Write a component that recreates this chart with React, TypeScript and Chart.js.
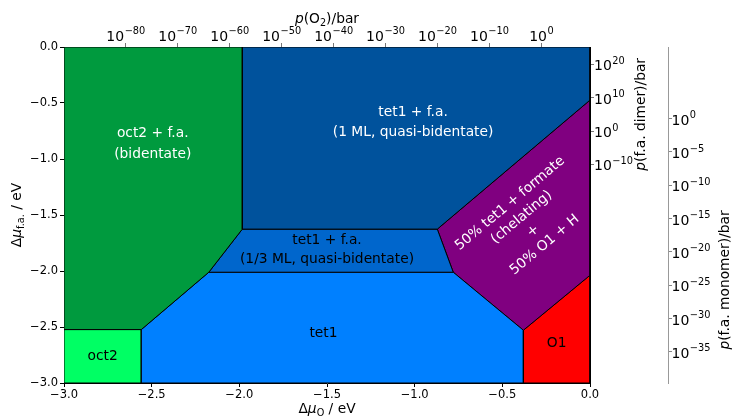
import React, { useEffect, useRef } from 'react';
import { Chart, registerables } from 'chart.js';
Chart.register(...registerables);

// ---------- data ----------
const muOTicks = [-3, -2.5, -2, -1.5, -1, -0.5, 0];
const muFaTicks = [-3, -2.5, -2, -1.5, -1, -0.5, 0];
const o2Exponents = [-80, -70, -60, -50, -40, -30, -20, -10, 0];
const dimerExponents = [20, 10, 0, -10];
const monomerExponents = [0, -5, -10, -15, -20, -25, -30, -35];

// log10(p/bar) at the edges of the plot (Δμ = -3 ... 0)
const o2Range = [-91.9, 9.35];
const dimerRange = [-75.6, 25.2];
const monomerRange = [-39.67, 10.74];

// phase polygons (Δμ_O, Δμ_f.a.)
const oct2FaX = [-3, -1.983, -1.983, -2.174, -2.559, -3, -3];
const oct2FaY = [0, 0, -1.626, -2.011, -2.523, -2.523, 0];
const tet1Fa1X = [-1.983, 0, 0, -0.871, -1.983, -1.983];
const tet1Fa1Y = [0, 0, -0.474, -1.626, -1.626, 0];
const tet1Fa13X = [-1.983, -0.871, -0.780, -2.174, -1.983];
const tet1Fa13Y = [-1.626, -1.626, -2.011, -2.011, -1.626];
const tet1X = [-2.174, -0.780, -0.380, -0.380, -2.559, -2.559, -2.174];
const tet1Y = [-2.011, -2.011, -2.529, -3, -3, -2.523, -2.011];
const oct2X = [-3, -2.559, -2.559, -3, -3];
const oct2Y = [-2.523, -2.523, -3, -3, -2.523];
const formateX = [-0.871, 0, 0, -0.380, -0.780, -0.871];
const formateY = [-1.626, -0.474, -2.038, -2.529, -2.011, -1.626];
const o1X = [-0.380, 0, 0, -0.380, -0.380];
const o1Y = [-2.529, -2.038, -3, -3, -2.529];

const phaseColors = ['#009a3e', '#00529c', '#0066cc', '#0080ff', '#00ff64', '#800080', '#ff0000'];
const phaseXs = [oct2FaX, tet1Fa1X, tet1Fa13X, tet1X, oct2X, formateX, o1X];
const phaseYs = [oct2FaY, tet1Fa1Y, tet1Fa13Y, tet1Y, oct2Y, formateY, o1Y];

// region labels
const labelLines = [
  ['oct2 + f.a.', '(bidentate)'],
  ['tet1 + f.a.', '(1 ML, quasi-bidentate)'],
  ['tet1 + f.a.', '(1/3 ML, quasi-bidentate)'],
  ['tet1'],
  ['oct2'],
  ['50% tet1 + formate', '(chelating)', '+', '50% O1 + H'],
  ['O1'],
];
const labelX = [-2.494, -1.009, -1.5, -1.52, -2.78, -0.357, -0.19];
const labelY = [-0.865, -0.67, -1.815, -2.56, -2.76, -1.582, -2.65];
const labelColors = ['#fff', '#fff', '#000', '#000', '#000', '#fff', '#000'];
const labelAngles = [0, 0, 0, 0, 0, -40, 0];
const labelSpacing = [21, 20, 19, 20, 20, 18, 20];

// ---------- helpers ----------
const FONT = '"DejaVu Sans", sans-serif';
const fmt = (v: number) => (v < 0 ? '\u2212' : '') + Math.abs(v).toFixed(1);
const expText = (v: number) => (v < 0 ? '\u2212' : '') + String(Math.abs(v));

const TICK = 11.5;
const BASESIZE = 14;
const SUPSIZE = 9.8;

function drawPow10(ctx: CanvasRenderingContext2D, e: number, x: number, baseline: number, align: 'left' | 'center') {
  ctx.font = `${BASESIZE}px ${FONT}`;
  const w1 = ctx.measureText('10').width;
  ctx.font = `${SUPSIZE}px ${FONT}`;
  const w2 = ctx.measureText(expText(e)).width;
  const gap = 0.5;
  const total = w1 + gap + w2;
  const x0 = align === 'center' ? x - total / 2 : x;
  ctx.textAlign = 'left';
  ctx.textBaseline = 'alphabetic';
  ctx.fillStyle = '#000';
  ctx.font = `${BASESIZE}px ${FONT}`;
  ctx.fillText('10', x0, baseline);
  ctx.font = `${SUPSIZE}px ${FONT}`;
  ctx.fillText(expText(e), x0 + w1 + gap, baseline - 6.4);
}

type Seg = { t: string; italic?: boolean; sub?: boolean };
function drawRich(ctx: CanvasRenderingContext2D, segs: Seg[], x: number, y: number, rot: number, size: number, color: string) {
  ctx.save();
  ctx.translate(x, y);
  ctx.rotate(rot);
  const fonts = segs.map((s) => `${s.italic ? 'italic ' : ''}${s.sub ? size * 0.7 : size}px ${FONT}`);
  let total = 0;
  const widths = segs.map((s, i) => {
    ctx.font = fonts[i];
    const w = ctx.measureText(s.t).width;
    total += w;
    return w;
  });
  let cx = -total / 2;
  ctx.textAlign = 'left';
  ctx.textBaseline = 'alphabetic';
  ctx.fillStyle = color;
  segs.forEach((s, i) => {
    ctx.font = fonts[i];
    ctx.fillText(s.t, cx, s.sub ? size * 0.22 : 0);
    cx += widths[i];
  });
  ctx.restore();
}

const textPlugin = {
  id: 'texts',
  afterDatasetsDraw(chart: any) {
    const ctx: CanvasRenderingContext2D = chart.ctx;
    const xs = chart.scales.x;
    const ys = chart.scales.y;
    ctx.save();
    ctx.font = `13.8px ${FONT}`;
    ctx.textAlign = 'center';
    ctx.textBaseline = 'middle';
    labelLines.forEach((lines, i) => {
      const px = xs.getPixelForValue(labelX[i]);
      const py = ys.getPixelForValue(labelY[i]);
      const lh = labelSpacing[i];
      ctx.save();
      ctx.translate(px, py);
      ctx.rotate((labelAngles[i] * Math.PI) / 180);
      ctx.fillStyle = labelColors[i];
      lines.forEach((l, k) => {
        ctx.fillText(l, 0, (k - (lines.length - 1) / 2) * lh);
      });
      ctx.restore();
    });
    ctx.restore();
  },
  afterDraw(chart: any) {
    const ctx: CanvasRenderingContext2D = chart.ctx;
    const a = chart.chartArea;
    ctx.save();
    // log tick labels
    const x2 = chart.scales.x2;
    x2.ticks.forEach((t: any) => drawPow10(ctx, t.value, x2.getPixelForValue(t.value), 40.5, 'center'));
    const y2 = chart.scales.y2;
    y2.ticks.forEach((t: any) => drawPow10(ctx, t.value, y2.left + 4, y2.getPixelForValue(t.value) + 6, 'left'));
    const y3 = chart.scales.y3;
    y3.ticks.forEach((t: any) => drawPow10(ctx, t.value, y3.left + 3.5, y3.getPixelForValue(t.value) + 6, 'left'));

    const cx = (a.left + a.right) / 2;
    const size = 13.8;
    drawRich(ctx, [{ t: 'p', italic: true }, { t: '(O' }, { t: '2', sub: true }, { t: ')/bar' }], cx, 23, 0, size, '#000');
    drawRich(ctx, [{ t: 'Δ' }, { t: 'μ', italic: true }, { t: 'O', sub: true }, { t: ' / eV' }], cx, 413, 0, size, '#000');
    drawRich(ctx, [{ t: 'Δ' }, { t: 'μ', italic: true }, { t: 'f.a.', sub: true }, { t: ' / eV' }], 21, (a.top + a.bottom) / 2, -Math.PI / 2, size, '#000');
    const dTop = y2.getPixelForValue(dimerExponents[0]);
    const dBot = y2.getPixelForValue(dimerExponents[dimerExponents.length - 1]);
    drawRich(ctx, [{ t: 'p', italic: true }, { t: '(f.a. dimer)/bar' }], 645, (dTop + dBot) / 2, -Math.PI / 2, size, '#000');
    drawRich(ctx, [{ t: 'p', italic: true }, { t: '(f.a. monomer)/bar' }], 729, 280, -Math.PI / 2, size, '#000');
    ctx.restore();
  },
};

const tickFont = { family: FONT, size: TICK };

function App() {
  const ref = useRef<HTMLCanvasElement | null>(null);
  useEffect(() => {
    const canvas = ref.current!;
    const datasets = phaseXs.map((xs, i) => ({
      data: xs.map((x, k) => ({ x, y: phaseYs[i][k] })),
      showLine: true,
      fill: 'shape' as const,
      backgroundColor: phaseColors[i],
      borderColor: '#000',
      borderWidth: 1,
      pointRadius: 0,
      xAxisID: 'x',
      yAxisID: 'y',
    }));
    const grid = (c: string, len = 4) => ({ drawOnChartArea: false, drawTicks: true, tickLength: len, tickColor: c, color: c });
    const chart = new Chart(canvas, {
      type: 'scatter',
      data: { datasets: datasets as any },
      options: {
        animation: false,
        responsive: false,
        events: [],
        layout: { padding: 0 },
        plugins: { legend: { display: false }, tooltip: { enabled: false } },
        scales: {
          x: {
            type: 'linear', position: 'bottom', min: -3, max: 0,
            afterBuildTicks: (s: any) => { s.ticks = muOTicks.map((v) => ({ value: v })); },
            ticks: { callback: (v: any) => fmt(Number(v)), font: tickFont, color: '#000', padding: 1, autoSkip: false, maxRotation: 0 },
            grid: grid('#000'),
            border: { color: '#000', width: 1 },
            afterFit: (s: any) => { s.height = 34; },
          },
          x2: {
            type: 'linear', position: 'top', min: o2Range[0], max: o2Range[1],
            afterBuildTicks: (s: any) => { s.ticks = o2Exponents.map((v) => ({ value: v })); },
            ticks: { display: false },
            grid: grid('#777'),
            border: { color: '#000', width: 1 },
            afterFit: (s: any) => { s.height = 47; },
          },
          y: {
            type: 'linear', position: 'left', min: -3, max: 0,
            afterBuildTicks: (s: any) => { s.ticks = muFaTicks.map((v) => ({ value: v })); },
            ticks: { callback: (v: any) => fmt(Number(v)), font: tickFont, color: '#000', padding: 2, autoSkip: false },
            grid: grid('#000'),
            border: { color: '#000', width: 1 },
            afterFit: (s: any) => { s.width = 64; },
          },
          y2: {
            type: 'linear', position: 'right', weight: 0, min: dimerRange[0], max: dimerRange[1],
            afterBuildTicks: (s: any) => { s.ticks = dimerExponents.map((v) => ({ value: v })); },
            ticks: { display: false },
            grid: grid('#777'),
            border: { color: '#000', width: 1 },
            afterFit: (s: any) => { s.width = 78; },
          },
          y3: {
            type: 'linear', position: 'right', weight: 1, min: monomerRange[0], max: monomerRange[1],
            afterBuildTicks: (s: any) => { s.ticks = monomerExponents.map((v) => ({ value: v })); },
            ticks: { display: false },
            grid: grid('#888'),
            border: { color: '#999', width: 1 },
            afterFit: (s: any) => { s.width = 66; },
          },
        },
      } as any,
      plugins: [textPlugin],
    });
    return () => chart.destroy();
  }, []);
  return (
    <div style={{ position: 'fixed', left: 0, top: 0, width: 734, height: 417, background: '#fff' }}>
      <canvas ref={ref} width={734} height={417} style={{ display: 'block', width: 734, height: 417 }} />
    </div>
  );
}

export default App;
